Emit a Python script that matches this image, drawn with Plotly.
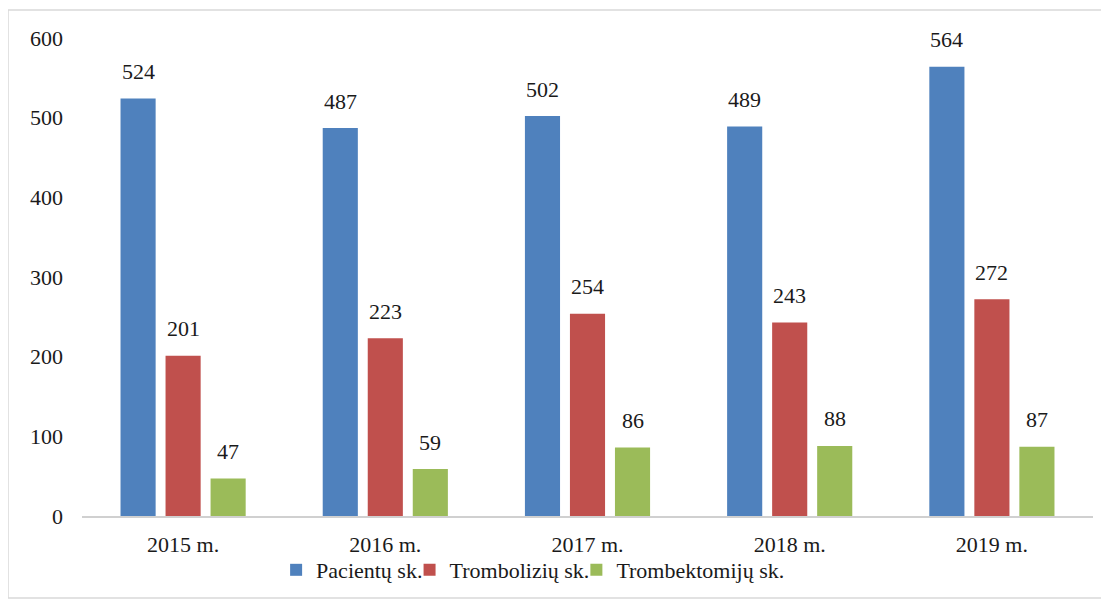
import plotly.graph_objects as go

categories = ["2015 m.", "2016 m.", "2017 m.", "2018 m.", "2019 m."]
series_names = ["Pacientų sk.", "Trombolizių sk.", "Trombektomijų sk."]
pacientu = [524, 487, 502, 489, 564]
tromboliziu = [201, 223, 254, 243, 272]
trombektomiju = [47, 59, 86, 88, 87]
y_ticks = [0, 100, 200, 300, 400, 500, 600]

colors = ["#4F81BD", "#C0504D", "#9BBB59"]
series = [pacientu, tromboliziu, trombektomiju]
FONT = "Liberation Serif"
legend_ids = ["legend", "legend2", "legend3"]
legend_x = [0.192, 0.324, 0.489]

fig = go.Figure()
for name, vals, col, lid in zip(series_names, series, colors, legend_ids):
    fig.add_trace(go.Bar(x=categories, y=vals, name=name, marker_color=col,
                         marker_line_width=0, legend=lid))

annotations = []
shifts = [-45, 0, 45]
for vals, dx in zip(series, shifts):
    for c, v in zip(categories, vals):
        annotations.append(dict(x=c, y=v, xref="x", yref="y", text=str(v),
                                showarrow=False, xshift=dx, yshift=27,
                                yanchor="middle",
                                font=dict(family=FONT, size=22, color="#1a1a1a")))

legend_style = dict(orientation="h", y=-0.113, yanchor="middle", xanchor="left",
                    font=dict(family=FONT, size=22, color="#1a1a1a"),
                    itemwidth=30, bgcolor="rgba(0,0,0,0)")

fig.update_layout(
    width=1109, height=600,
    paper_bgcolor="white", plot_bgcolor="white",
    margin=dict(l=74, r=24, t=30, b=92, autoexpand=False),
    barmode="group", bargap=0.332, bargroupgap=0.22,
    font=dict(family=FONT, size=21, color="#1a1a1a"),
    showlegend=True,
    legend=dict(x=legend_x[0], **legend_style),
    legend2=dict(x=legend_x[1], **legend_style),
    legend3=dict(x=legend_x[2], **legend_style),
    annotations=annotations,
    shapes=[dict(type="rect", xref="paper", yref="paper",
                 x0=-0.0732, x1=1.03, y0=-0.1715, y1=1.0586,
                 line=dict(color="#d9d9d9", width=1.5), fillcolor="rgba(0,0,0,0)",
                 layer="below")],
)
fig.update_xaxes(showline=True, linecolor="#d0d0d0", linewidth=1.5, showgrid=False,
                 ticks="", ticklabelstandoff=8,
                 tickfont=dict(family=FONT, size=22, color="#1a1a1a"))
fig.update_yaxes(range=[0, 600], tickvals=y_ticks, showgrid=False, zeroline=False,
                 showline=False, ticks="", ticklabelstandoff=18,
                 tickfont=dict(family=FONT, size=22, color="#1a1a1a"))

fig.write_html("out.html")
